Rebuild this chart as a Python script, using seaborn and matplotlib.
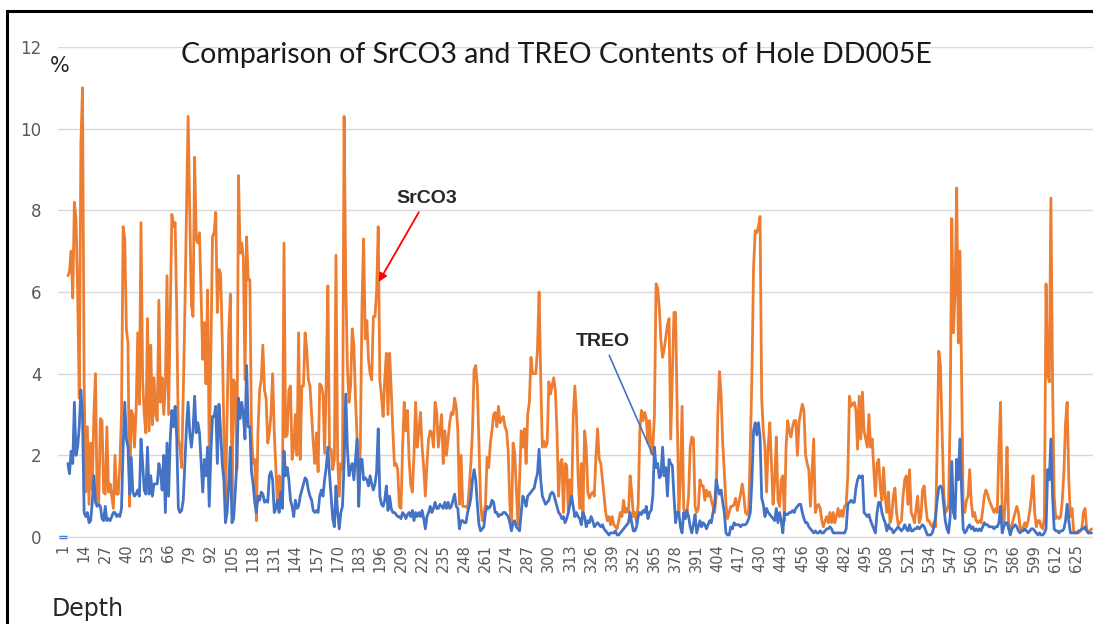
import numpy as np
import pandas as pd
import matplotlib
matplotlib.use('Agg')
import matplotlib.pyplot as plt
import seaborn as sns
from matplotlib.patches import Rectangle

# SrCO3 content (%) by sample index
sr_a = [6.4, 6.5, 7.0, 5.85, 8.2, 7.8, 6.0, 3.4, 9.6, 11.0, 3.8, 1.1, 2.7, 0.8, 2.3, 1.15, 3.0, 4.0, 0.9, 0.85,
        2.9, 2.85, 1.1, 1.05, 2.7, 1.1, 1.3, 1.0, 0.7, 2.0, 1.05, 1.05, 1.8, 3.0, 7.6, 7.3, 5.1, 4.75, 0.75, 3.1,
        3.0, 2.2, 3.1, 5.0, 3.25, 7.7, 3.85, 3.0, 2.55, 5.35, 2.6, 4.7, 2.75, 3.9, 3.0, 2.85, 5.8, 3.3, 3.9, 3.0,
        3.7, 6.4, 3.0]
sr_b = [5.5, 7.9, 7.6, 7.7, 5.5, 2.4, 2.2, 1.7, 3.5, 5.5, 8.0, 10.3, 8.0, 5.7, 5.4, 9.3, 7.3, 7.2, 7.45, 5.9,
        4.35, 5.25, 3.75, 6.05, 2.0, 4.5, 7.35, 7.45, 7.95, 5.5, 6.55, 6.45, 4.85, 2.6, 0.75, 3.0, 5.0, 5.95, 0.9, 3.85,
        3.75, 1.65, 8.85, 6.95, 7.2, 6.85, 3.85, 7.35, 6.3, 6.3, 2.55, 1.8, 1.9, 0.4, 2.6, 3.6, 3.85, 4.7, 3.6, 3.4,
        2.3, 2.55, 3.0, 4.0, 2.6, 1.65, 0.75, 1.5]
sr_c = [1.0, 0.75, 7.2, 2.45, 2.5, 3.6, 3.7, 1.9, 2.2, 3.0, 2.0, 5.0, 1.9, 3.7, 3.7, 5.0, 4.6, 3.85, 3.7, 3.0,
        2.3, 1.8, 2.55, 1.6, 3.75, 3.7, 3.5, 2.05, 3.85, 6.15, 2.15, 2.15, 1.65, 1.9, 6.9, 1.95, 1.0, 1.8, 1.65, 10.3,
        6.3, 4.2, 3.3, 3.7, 5.1, 4.7, 3.4, 2.4, 1.0, 2.2, 5.65, 7.3, 4.85, 5.3, 4.35, 4.0, 3.85, 5.4, 5.4, 6.0,
        7.6, 3.85, 3.45, 2.95, 3.85, 4.5, 3.0, 4.5]
sr_d = [3.6, 2.6, 1.75, 1.8, 1.65, 0.75, 0.7, 2.2, 3.3, 2.6, 3.1, 1.9, 1.3, 1.1, 2.0, 3.3, 2.2, 2.6, 3.05, 2.2,
        1.7, 1.0, 1.8, 2.4, 2.6, 2.55, 2.2, 3.3, 3.05, 2.2, 2.6, 3.0, 1.8, 2.6, 2.0, 2.4, 2.8, 3.05, 3.0, 3.4,
        3.2, 2.6, 0.8, 2.0, 0.75, 0.75, 0.75, 0.7, 1.2, 1.8, 2.6, 4.1, 4.2, 3.7, 2.3, 0.85, 0.4, 0.55, 0.8, 1.95,
        1.7, 2.3, 2.6, 3.0, 3.05, 2.7, 3.2, 2.8]
sr_e = [2.9, 2.95, 2.7, 2.6, 2.1, 0.8, 0.2, 2.3, 2.05, 1.2, 0.3, 1.4, 2.6, 2.2, 2.65, 1.8, 3.0, 3.3, 4.4, 4.0,
        4.0, 4.0, 4.6, 6.0, 3.9, 2.2, 2.35, 2.2, 2.3, 3.8, 3.5, 3.7, 3.9, 3.6, 2.6, 1.0, 1.8, 1.9, 0.6, 1.8,
        1.75, 0.6, 1.4, 0.85, 2.9, 3.7, 3.0, 1.5, 0.7, 1.8, 0.55, 2.6, 2.2, 1.1, 0.95, 1.05, 1.1, 1.0, 2.0, 2.65,
        1.9, 1.8, 1.4, 1.0, 0.6, 0.4, 0.5, 0.3]
sr_f = [0.5, 0.3, 0.25, 0.2, 0.4, 0.6, 0.5, 0.9, 0.6, 0.7, 0.6, 1.5, 1.1, 0.5, 0.6, 0.35, 0.8, 2.6, 3.1, 2.85,
        3.05, 2.9, 2.3, 2.85, 2.05, 2.2, 3.0, 6.2, 6.1, 5.6, 4.8, 4.4, 4.6, 4.9, 5.2, 5.35, 2.4, 4.0, 5.5, 5.5,
        3.0, 0.6, 1.4, 3.2, 0.7, 0.6, 0.6, 1.0, 2.2, 2.45, 2.4, 0.75, 0.6, 0.7, 1.4, 1.25, 1.25, 0.9, 1.15, 1.0,
        1.1, 0.9, 0.75, 0.6, 1.0, 3.0, 4.05]
sr_g = [3.5, 2.3, 1.6, 0.8, 0.45, 0.6, 0.75, 0.75, 0.8, 0.95, 0.65, 0.85, 1.05, 1.3, 1.0, 0.6, 0.55, 0.65, 2.2, 4.0,
        6.6, 7.5, 7.45, 7.6, 7.85, 3.4, 2.6, 2.2, 1.1, 2.2, 2.8, 1.8, 0.8, 1.4, 2.45, 0.9, 0.75, 1.4, 1.5, 0.4,
        2.2, 2.85, 2.6, 2.45, 2.7, 2.85, 2.85, 2.0, 2.8, 3.05, 3.25, 3.1, 2.0, 1.8, 1.65, 0.75, 1.6, 2.4, 0.6, 0.75,
        0.8, 0.7, 0.4, 0.25, 0.4, 0.5, 0.35, 0.6]
sr_h = [0.35, 0.6, 0.35, 0.5, 0.7, 0.5, 0.65, 0.5, 0.75, 0.8, 1.5, 3.45, 3.2, 3.25, 3.3, 3.1, 2.15, 3.45, 2.4, 3.55,
        2.6, 2.4, 2.2, 3.0, 2.2, 2.4, 1.65, 1.0, 1.8, 1.9, 1.2, 0.9, 1.7, 1.0, 0.6, 1.1, 0.35, 0.5, 1.0, 1.2,
        0.6, 0.3, 0.35, 0.4, 1.0, 1.4, 1.5, 0.8, 1.65, 0.6, 0.5, 0.35, 0.7, 1.0, 0.35, 0.5, 1.15, 1.25, 0.75, 0.4,
        0.4, 0.3, 0.25, 0.35, 0.25, 2.2, 4.55]
sr_i = [4.2, 2.6, 1.1, 0.6, 0.65, 0.8, 3.0, 7.8, 5.0, 6.0, 8.55, 4.75, 7.0, 4.0, 0.75, 0.6, 0.9, 1.0, 1.65, 0.85,
        0.5, 0.6, 0.4, 0.35, 0.4, 0.35, 0.65, 1.0, 1.15, 1.05, 0.9, 0.8, 0.7, 0.6, 0.7, 0.6, 2.2, 3.3, 0.6, 0.35,
        0.9, 2.2, 0.3, 0.2, 0.3, 0.45, 0.6, 0.75, 0.6, 0.25, 0.15, 0.25, 0.35, 0.25, 0.4, 0.65, 1.0, 1.5, 0.6, 0.25,
        0.4, 0.4, 0.25, 0.2, 0.5, 6.2, 4.0, 3.8]
sr_j = [8.3, 3.8, 1.0, 0.45, 0.5, 0.45, 0.5, 0.9, 1.6, 2.8, 3.3, 1.4, 0.5, 0.7, 0.15, 0.1, 0.1, 0.1, 0.15, 0.2,
        0.6, 0.7, 0.2, 0.1, 0.15, 0.2]

# TREO content (%) by sample index
treo_a = [1.8, 1.55, 2.1, 1.8, 3.3, 2.0, 2.2, 2.7, 3.6, 3.0, 0.6, 0.5, 0.6, 0.35, 0.4, 0.85, 1.5, 0.85, 0.75, 0.8,
          0.75, 0.45, 0.4, 0.75, 0.4, 0.45, 0.4, 0.5, 0.6, 0.6, 0.5, 0.55, 0.5, 0.7, 2.2, 3.3, 2.4, 2.2, 1.05, 1.95,
          1.1, 1.0, 1.05, 1.15, 1.0, 2.4, 1.8, 1.15, 1.05, 2.2, 1.05, 1.5, 1.0, 1.3, 1.3, 1.3, 1.8, 1.6, 1.15, 2.0,
          0.6, 2.3, 1.0]
treo_b = [2.4, 3.1, 2.7, 3.2, 2.4, 0.7, 0.6, 0.65, 0.9, 1.8, 2.7, 3.3, 2.55, 2.2, 2.6, 3.45, 2.55, 2.8, 2.55, 1.8,
          1.1, 1.9, 1.5, 2.2, 0.75, 2.05, 2.95, 2.95, 3.2, 1.8, 3.25, 2.6, 1.8, 1.4, 0.35, 0.6, 1.3, 2.2, 0.35, 0.45,
          1.1, 1.8, 3.4, 2.9, 3.3, 3.0, 2.4, 4.2, 2.7, 2.7, 1.6, 1.3, 0.85, 0.6, 1.0, 0.9, 1.1, 1.05, 0.85, 0.9,
          0.85, 1.5, 1.6, 1.4, 0.6, 0.7, 0.9, 0.6]
treo_c = [1.1, 0.7, 2.1, 1.5, 1.7, 1.4, 0.9, 0.75, 0.5, 0.9, 0.7, 0.75, 1.0, 1.15, 1.3, 1.45, 1.4, 1.15, 1.0, 0.9,
          0.65, 0.6, 0.65, 0.6, 1.0, 1.15, 1.0, 1.4, 1.7, 2.2, 1.55, 1.0, 0.45, 0.25, 1.25, 0.6, 0.2, 0.6, 0.75, 1.8,
          3.5, 2.2, 1.5, 1.7, 1.8, 1.4, 1.9, 2.4, 0.75, 1.9, 1.9, 1.4, 1.45, 1.4, 1.25, 1.5, 1.3, 1.15, 1.3, 1.6,
          2.65, 1.0, 0.8, 0.75, 0.9, 1.25, 0.65, 1.0]
treo_d = [0.7, 0.6, 0.6, 0.55, 0.5, 0.5, 0.45, 0.6, 0.55, 0.45, 0.55, 0.6, 0.5, 0.65, 0.4, 0.6, 0.5, 0.6, 0.5, 0.65,
          0.45, 0.2, 0.5, 0.6, 0.75, 0.6, 0.7, 0.85, 0.7, 0.7, 0.8, 0.75, 0.7, 0.85, 0.7, 0.85, 0.7, 0.75, 0.9, 1.05,
          0.75, 0.7, 0.2, 0.4, 0.4, 0.35, 0.35, 0.6, 0.75, 0.95, 1.4, 1.65, 1.4, 0.8, 0.3, 0.15, 0.2, 0.25, 0.6, 0.75,
          0.7, 0.75, 0.9, 0.85, 0.6, 0.6, 0.5, 0.55]
treo_e = [0.55, 0.6, 0.6, 0.55, 0.5, 0.35, 0.15, 0.35, 0.4, 0.25, 0.2, 0.15, 0.6, 1.0, 0.9, 0.75, 1.0, 1.05, 1.1, 1.15,
          1.2, 1.4, 1.55, 2.15, 1.4, 1.0, 0.9, 0.8, 0.85, 0.9, 1.05, 1.1, 1.05, 0.9, 0.75, 0.6, 0.55, 0.45, 0.5, 0.35,
          0.45, 0.6, 0.8, 1.0, 0.75, 0.5, 0.6, 0.5, 0.45, 0.3, 0.6, 0.5, 0.25, 0.4, 0.35, 0.5, 0.4, 0.25, 0.3, 0.35,
          0.3, 0.25, 0.3, 0.2, 0.15, 0.1, 0.05, 0.1]
treo_f = [0.1, 0.1, 0.15, 0.05, 0.05, 0.1, 0.15, 0.2, 0.25, 0.3, 0.35, 0.6, 0.35, 0.15, 0.15, 0.25, 0.5, 0.6, 0.55, 0.65,
          0.6, 0.75, 0.45, 0.6, 0.65, 1.0, 2.2, 1.7, 1.8, 1.45, 1.5, 2.2, 1.5, 1.7, 1.0, 1.9, 1.8, 1.75, 1.0, 0.35,
          0.6, 0.6, 0.25, 0.1, 0.6, 0.45, 0.65, 0.5, 0.25, 0.1, 0.3, 0.55, 0.1, 0.25, 0.4, 0.25, 0.35, 0.3, 0.2, 0.3,
          0.4, 0.35, 0.6, 0.75, 1.4, 1.2, 1.05]
treo_g = [1.15, 0.85, 0.6, 0.1, 0.05, 0.05, 0.25, 0.2, 0.35, 0.3, 0.3, 0.3, 0.25, 0.3, 0.3, 0.3, 0.35, 0.45, 0.6, 1.4,
          2.6, 2.8, 2.5, 2.8, 2.45, 0.95, 0.8, 0.5, 0.7, 0.6, 0.55, 0.5, 0.45, 0.4, 0.7, 0.35, 0.6, 0.4, 0.1, 0.6,
          0.55, 0.55, 0.6, 0.6, 0.65, 0.6, 0.7, 0.75, 0.8, 0.8, 0.6, 0.45, 0.35, 0.35, 0.25, 0.2, 0.15, 0.1, 0.15, 0.1,
          0.1, 0.15, 0.1, 0.1, 0.15, 0.2, 0.2, 0.25]
treo_h = [0.2, 0.1, 0.1, 0.1, 0.1, 0.1, 0.1, 0.1, 0.1, 0.2, 0.8, 0.85, 0.9, 0.85, 0.85, 1.2, 1.4, 1.5, 1.45, 1.5,
          0.6, 0.55, 0.5, 0.55, 0.4, 0.3, 0.2, 0.1, 0.6, 0.85, 0.85, 0.6, 0.45, 0.35, 0.15, 0.3, 0.2, 0.2, 0.1, 0.15,
          0.2, 0.25, 0.2, 0.15, 0.2, 0.3, 0.2, 0.15, 0.3, 0.15, 0.15, 0.2, 0.2, 0.25, 0.2, 0.25, 0.3, 0.25, 0.15, 0.05,
          0.05, 0.05, 0.1, 0.25, 0.5, 0.9, 1.2]
treo_i = [1.25, 1.2, 0.8, 0.4, 0.2, 0.1, 0.5, 1.85, 0.6, 0.45, 1.9, 1.4, 2.4, 1.2, 0.2, 0.1, 0.15, 0.25, 0.3, 0.2,
          0.25, 0.15, 0.2, 0.15, 0.2, 0.15, 0.25, 0.35, 0.3, 0.3, 0.25, 0.25, 0.25, 0.2, 0.25, 0.25, 0.35, 0.75, 0.1, 0.25,
          0.35, 0.35, 0.2, 0.05, 0.2, 0.25, 0.3, 0.25, 0.15, 0.1, 0.15, 0.15, 0.2, 0.15, 0.1, 0.15, 0.2, 0.2, 0.15, 0.1,
          0.05, 0.1, 0.05, 0.05, 0.1, 0.2, 1.65, 1.4]
treo_j = [2.4, 1.0, 0.2, 0.15, 0.15, 0.1, 0.15, 0.15, 0.2, 0.4, 0.8, 0.4, 0.1, 0.1, 0.1, 0.1, 0.1, 0.15, 0.15, 0.2,
          0.2, 0.25, 0.15, 0.1, 0.1, 0.1]

treo_first = 0.0   # lone TREO reading at depth 1
start = 4          # both lines begin at index 4

sr = sr_a + sr_b + sr_c + sr_d + sr_e + sr_f + sr_g + sr_h + sr_i + sr_j
treo = treo_a + treo_b + treo_c + treo_d + treo_e + treo_f + treo_g + treo_h + treo_i + treo_j
n = min(len(sr), len(treo))
df = pd.DataFrame({'depth': np.arange(start, start + n), 'SrCO3': sr[:n], 'TREO': treo[:n]})

tick_labels = list(range(1, 635, 13))

sns.set_style('white')
plt.rcParams['font.family'] = ['DejaVu Sans']

W, H = 1093, 624
fig = plt.figure(figsize=(W / 100, H / 100), dpi=100)
ax = fig.add_axes([58 / W, 87 / H, 1035 / W, 490 / H])

orange = '#ED7D31'
blue = '#4472C4'
sns.lineplot(data=df, x='depth', y='SrCO3', color=orange, lw=2.0, errorbar=None, ax=ax)
sns.lineplot(data=df, x='depth', y='TREO', color=blue, lw=2.0, errorbar=None, ax=ax)
sns.scatterplot(x=[1], y=[treo_first], marker='_', s=30, color=blue, linewidth=2.5, ax=ax, clip_on=False)

ax.set_xlim(-2.08, 634.9)
ax.set_ylim(0, 12)
ax.set_yticks(range(0, 13, 2))
ax.set_xticks(tick_labels)
ax.set_xticklabels([str(t) for t in tick_labels], rotation=90)
ax.tick_params(length=0, colors='#595959')
ax.tick_params(axis='x', labelsize=10.5, pad=5)
ax.tick_params(axis='y', labelsize=12, pad=12)
ax.grid(axis='y', color='#d9d9d9', lw=1)
ax.set_axisbelow(True)
for s in ['top', 'right', 'left']:
    ax.spines[s].set_visible(False)
ax.spines['bottom'].set_color('#d9d9d9')
ax.set_xlabel('')
ax.set_ylabel('')

# annotations
ax.annotate('SrCO3', xy=(195.36, 6.25), xytext=(225, 8.3), ha='center', va='center',
            fontsize=14, fontweight='bold', family='Liberation Sans',
            arrowprops=dict(arrowstyle='-|>', color='red', lw=1.3, mutation_scale=12, shrinkA=2, shrinkB=0))
ax.annotate('TREO', xy=(364.1, 2.0), xytext=(333.3, 4.8), ha='center', va='center',
            fontsize=14, fontweight='bold', family='Liberation Sans',
            arrowprops=dict(arrowstyle='-', color=blue, lw=1.2, shrinkA=2, shrinkB=0))

fig.text(556 / W, 1 - 55 / H, 'Comparison of SrCO3 and TREO Contents of Hole DD005E',
         ha='center', va='center', fontsize=20.5, color='#1a1a1a', family=['Lato', 'DejaVu Sans'])
fig.text(60 / W, 1 - 66 / H, '%', ha='center', va='center', fontsize=15)
fig.text(52 / W, 1 - 609 / H, 'Depth', ha='left', va='center', fontsize=17)

# outer frame
fig.add_artist(Rectangle((6.5 / W, -0.1), 1.2, (H - 10.5) / H + 0.1, transform=fig.transFigure,
                         fill=False, edgecolor='black', lw=2.2))

fig.savefig('out.png', dpi=100, facecolor='white')
